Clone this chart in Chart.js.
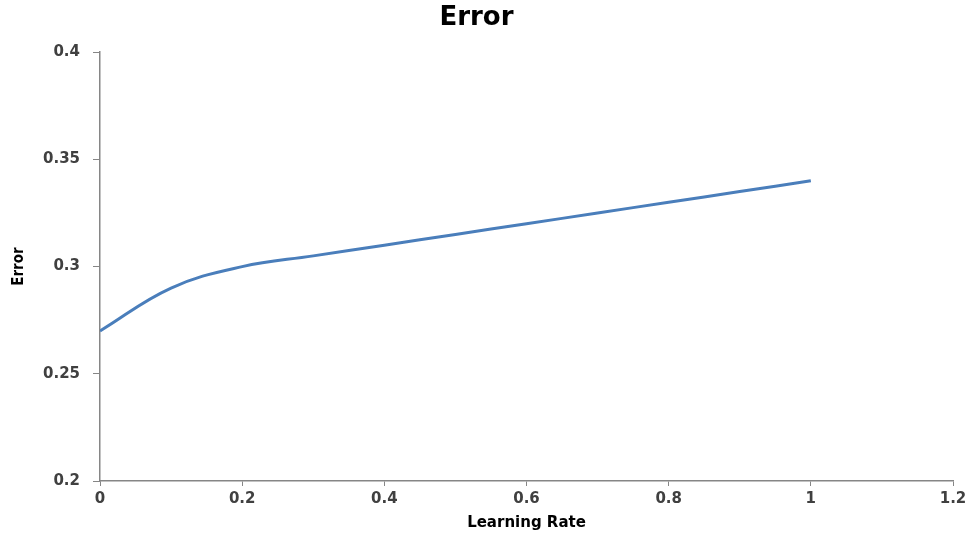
<!DOCTYPE html>
<html>
<head>
<meta charset="utf-8">
<script src="https://cdn.jsdelivr.net/npm/chart.js@4"></script>
<style>
  html, body { margin: 0; padding: 0; background: #fff; }
  #wrap { width: 979px; height: 534px; }
</style>
</head>
<body>
<div id="wrap"><canvas id="myChart" width="979" height="534"></canvas></div>
<script>
// values
const learningRate = [0, 0.1, 0.2, 0.3, 0.4, 0.5, 0.6, 0.7, 0.8, 0.9, 1];
const errorValues = [0.27, 0.29, 0.30, 0.305, 0.31, 0.315, 0.32, 0.325, 0.33, 0.335, 0.34];
const xTicks = [0, 0.2, 0.4, 0.6, 0.8, 1, 1.2];
const yTicks = [0.2, 0.25, 0.3, 0.35, 0.4];

const axisColor = "#868686";
const tickFont = { family: "DejaVu Sans", size: 15, weight: "bold" };

let points = learningRate.map((x, i) => ({ x: x, y: errorValues[i] }));

let ctx = document.getElementById("myChart");
let myChart = new Chart(ctx, {
    type: "line",
    data: {
        datasets: [{
            label: "Error",
            data: points,
            borderColor: "#4a7ebb",
            borderWidth: 3,
            pointRadius: 0,
            tension: 0.4,
            fill: false
        }]
    },
    options: {
        responsive: false,
        animation: false,
        layout: { padding: { left: 0, right: 26, top: 0, bottom: 0 } },
        plugins: {
            legend: { display: false },
            tooltip: { enabled: false },
            title: {
                display: true,
                text: "Error",
                color: "#000",
                font: { family: "DejaVu Sans", size: 26, weight: "bold" },
                padding: { top: 3, bottom: 18 }
            }
        },
        scales: {
            x: {
                type: "linear",
                min: 0,
                max: 1.2,
                afterBuildTicks: axis => { axis.ticks = xTicks.map(v => ({ value: v })); },
                afterFit: axis => { axis.height = 53; },
                grid: { drawOnChartArea: false, color: axisColor, tickLength: 5 },
                border: { color: axisColor, width: 1.5 },
                ticks: { color: "#404040", font: tickFont, padding: 4,
                         callback: v => String(+v.toFixed(2)) },
                title: {
                    display: true,
                    text: "Learning Rate",
                    color: "#000",
                    font: { family: "DejaVu Sans", size: 15, weight: "bold" },
                    padding: { top: 0, bottom: 2 }
                }
            },
            y: {
                min: 0.2,
                max: 0.4,
                afterBuildTicks: axis => { axis.ticks = yTicks.map(v => ({ value: v })); },
                afterFit: axis => { axis.width = 100; },
                grid: { drawOnChartArea: false, color: axisColor, tickLength: 7 },
                border: { color: axisColor, width: 1.5 },
                ticks: { color: "#404040", font: tickFont, padding: 13,
                         callback: v => String(+v.toFixed(2)) },
                title: {
                    display: true,
                    text: "Error",
                    color: "#000",
                    font: { family: "'Liberation Sans Narrow', 'DejaVu Sans Condensed', sans-serif", size: 15, weight: "bold" },
                    padding: { top: 10, bottom: 0 }
                }
            }
        }
    }
});
</script>
</body>
</html>
